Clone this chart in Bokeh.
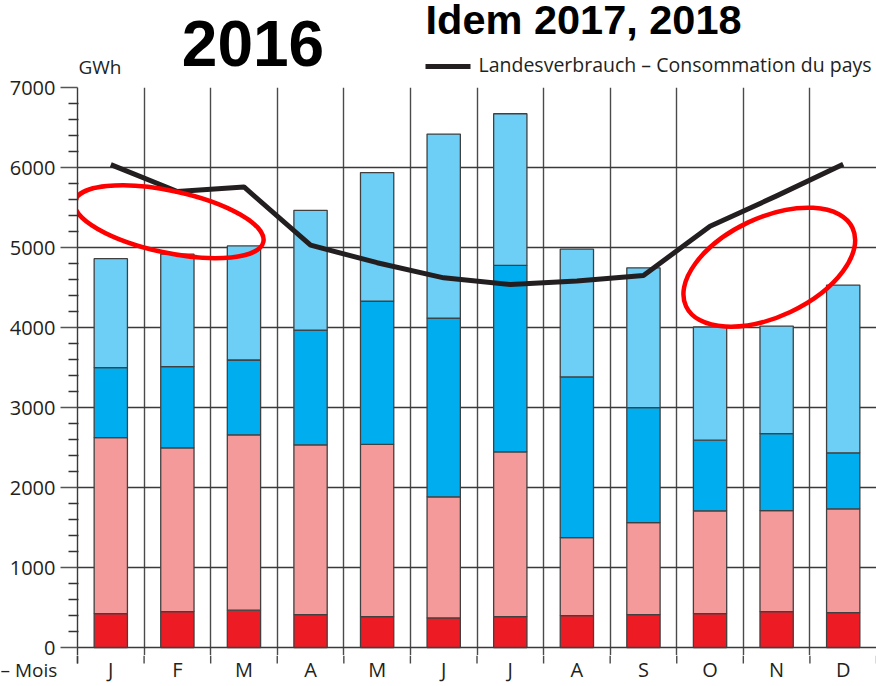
from bokeh.plotting import figure
from bokeh.layouts import column
from bokeh.models import FixedTicker, ColumnDataSource, Range1d, Grid
from bokeh.core.properties import value
from bokeh.embed import file_html
from bokeh.resources import INLINE

# ---- data (GWh, 2016) ----
months = ["J", "F", "M", "A", "M", "J", "J", "A", "S", "O", "N", "D"]
thermal = [424, 449, 466, 412, 387, 370, 387, 399, 412, 424, 449, 437]          # red
nuclear = [2200, 2047, 2192, 2121, 2153, 1514, 2059, 974, 1148, 1285, 1261, 1297]  # pink
run_of_river = [874, 1014, 936, 1435, 1790, 2234, 2330, 2009, 1439, 883, 964, 699]  # blue
storage = [1362, 1406, 1426, 1497, 1606, 2300, 1896, 1597, 1747, 1414, 1344, 2097]  # light blue
consumption = [6036, 5700, 5757, 5029, 4810, 4621, 4538, 4580, 4650, 5266, 5645, 6040]
y_ticks = [0, 1000, 2000, 3000, 4000, 5000, 6000, 7000]
legend_label = "Landesverbrauch – Consommation du pays"

x = list(range(1, 13))
src = ColumnDataSource(dict(x=x, months=months, thermal=thermal, nuclear=nuclear,
                            run_of_river=run_of_river, storage=storage,
                            consumption=consumption))

FONT = "Open Sans"
TXT = "#231f20"
W = 876
LEFT = 77
X_START = 0.5 - LEFT / ((W - LEFT) / 12)   # x value at the canvas' left edge


def bare(fig):
    fig.outline_line_color = None
    fig.background_fill_color = "white"
    fig.border_fill_color = "white"
    fig.center = [r for r in fig.center if not isinstance(r, Grid)]
    fig.frame_align = False
    return fig


common = dict(output_backend="svg", toolbar_location=None, title_location=None,
              x_axis_location=None, min_border_right=0, min_border_bottom=0)

# ---------------- header (titles + legend) ----------------
head = bare(figure(width=W, height=79, x_range=Range1d(0, W), y_range=Range1d(79, 0),
                   y_axis_location=None, min_border_left=0, min_border_top=0, **common))
head.text(x=[252.5], y=[42.5], text=["2016"], text_align="center", text_baseline="middle",
          text_font=value("Liberation Sans"), text_font_style="bold",
          text_font_size="64px", text_color="black")
head.text(x=[425], y=[19], text=["Idem 2017, 2018"], text_align="left",
          text_baseline="middle", text_font=value("Liberation Sans"),
          text_font_style="bold", text_font_size="41.5px", text_color="black")
head.text(x=[78], y=[66], text=["GWh"], text_align="left", text_baseline="middle",
          text_font=value(FONT), text_font_size="19px", text_color=TXT)
head.segment(x0=[425], y0=[66], x1=[470], y1=[66], line_color="#231f20", line_width=5)
head.text(x=[478], y=[64], text=[legend_label], text_align="left",
          text_baseline="middle", text_font=value(FONT), text_font_size="19.5px",
          text_color=TXT)

# ---------------- main chart ----------------
p = bare(figure(width=W, height=576, x_range=Range1d(0.5, 12.5), y_range=Range1d(-100, 7000),
                min_border_left=LEFT, min_border_top=8, **common))
p.add_layout(Grid(dimension=0, ticker=FixedTicker(ticks=[i + 0.5 for i in range(13)]),
                  grid_line_color="#4a4a4a", grid_line_width=1.4))
p.add_layout(Grid(dimension=1, ticker=FixedTicker(ticks=y_ticks),
                  grid_line_color="#3a3a3a", grid_line_width=1.4))

ya = p.yaxis[0]
ya.ticker = FixedTicker(ticks=y_ticks, minor_ticks=[v for v in range(200, 7000, 200) if v % 1000])
ya.axis_line_color = "#3a3a3a"
ya.axis_line_width = 1.4
ya.major_tick_line_color = "#555555"
ya.major_tick_line_width = 1.4
ya.major_tick_out = 17
ya.major_tick_in = 0
ya.minor_tick_line_color = "#333333"
ya.minor_tick_line_width = 1.4
ya.minor_tick_out = 9
ya.minor_tick_in = 1
ya.major_label_standoff = 5
ya.major_label_text_font = FONT
ya.major_label_text_font_size = "20px"
ya.major_label_text_color = TXT

p.vbar_stack(["thermal", "nuclear", "run_of_river", "storage"], x="x", width=0.5, source=src,
             color=["#ed1c24", "#f59a9a", "#00aeef", "#6dcff6"],
             line_color="#404040", line_width=1.3)

p.line("x", "consumption", source=src, line_color="#231f20", line_width=5, line_join="round")

# red hand-drawn annotation ellipses
p.ellipse(x=[1.874], y=[5322], width=[193], height=[62], angle=[-0.21],
          width_units="screen", height_units="screen", fill_color=None,
          line_color="#ff0000", line_width=4.5)
p.ellipse(x=[10.89], y=[4754], width=[184], height=[99], angle=[0.44],
          width_units="screen", height_units="screen", fill_color=None,
          line_color="#ff0000", line_width=4.5)

# ---------------- footer (boundary ticks + month labels) ----------------
foot = bare(figure(width=W, height=31, x_range=Range1d(X_START, 12.5), y_range=Range1d(686, 655),
                   y_axis_location=None, min_border_left=0, min_border_top=0, **common))
bounds = [i + 0.5 for i in range(13)]
foot.segment(x0=bounds, y0=[655] * 13, x1=bounds, y1=[663] * 13,
             line_color="#4a4a4a", line_width=1.4)
foot.segment(x0=[0.5], y0=[655], x1=[0.5], y1=[663], line_color="#3a3a3a", line_width=1.4)
foot.text(x="x", y=669, text="months", source=src, text_align="center",
          text_baseline="middle", text_font=value(FONT), text_font_size="20px",
          text_color=TXT)
foot.text(x=[X_START], y=[669], text=["– Mois"], text_align="left",
          text_baseline="middle", text_font=value(FONT), text_font_size="19px",
          text_color=TXT)

layout = column(head, p, foot, spacing=0)
open("out.html", "w").write(file_html(layout, INLINE))
